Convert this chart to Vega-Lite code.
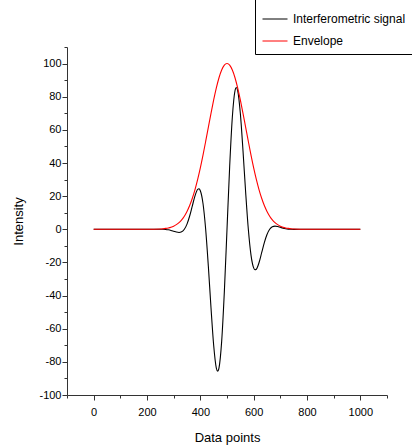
{
  "$schema": "https://vega.github.io/schema/vega-lite/v6.json",
  "width": 320,
  "height": 348,
  "autosize": {"type": "none"},
  "padding": {"left": 67, "top": 47, "right": 25, "bottom": 53},
  "background": "white",
  "config": {
    "view": {"stroke": null},
    "font": "Liberation Sans",
    "axis": {
      "grid": false,
      "domainColor": "#333333",
      "tickColor": "#333333",
      "labelColor": "#000000",
      "titleColor": "#000000",
      "labelFont": "Liberation Sans",
      "titleFont": "Liberation Sans",
      "labelFontSize": 11,
      "titleFontSize": 13,
      "titleFontWeight": "normal",
      "labelOverlap": false
    }
  },
  "data": {
    "values": [
      {"series": "Interferometric signal", "x": 0, "y": 0},
      {"series": "Interferometric signal", "x": 100, "y": 0},
      {"series": "Interferometric signal", "x": 200, "y": 0},
      {"series": "Interferometric signal", "x": 250, "y": 0.04},
      {"series": "Interferometric signal", "x": 260, "y": 0},
      {"series": "Interferometric signal", "x": 270, "y": -0.11},
      {"series": "Interferometric signal", "x": 280, "y": -0.33},
      {"series": "Interferometric signal", "x": 290, "y": -0.68},
      {"series": "Interferometric signal", "x": 300, "y": -1.17},
      {"series": "Interferometric signal", "x": 310, "y": -1.67},
      {"series": "Interferometric signal", "x": 320, "y": -1.93},
      {"series": "Interferometric signal", "x": 330, "y": -1.54},
      {"series": "Interferometric signal", "x": 340, "y": 0},
      {"series": "Interferometric signal", "x": 350, "y": 3.14},
      {"series": "Interferometric signal", "x": 360, "y": 8.01},
      {"series": "Interferometric signal", "x": 370, "y": 14.14},
      {"series": "Interferometric signal", "x": 380, "y": 20.19},
      {"series": "Interferometric signal", "x": 390, "y": 24.09},
      {"series": "Interferometric signal", "x": 395, "y": 24.43},
      {"series": "Interferometric signal", "x": 400, "y": 23.28},
      {"series": "Interferometric signal", "x": 410, "y": 15.56},
      {"series": "Interferometric signal", "x": 420, "y": 0},
      {"series": "Interferometric signal", "x": 430, "y": -22.2},
      {"series": "Interferometric signal", "x": 440, "y": -47.4},
      {"series": "Interferometric signal", "x": 450, "y": -69.98},
      {"series": "Interferometric signal", "x": 460, "y": -83.71},
      {"series": "Interferometric signal", "x": 465, "y": -85.6},
      {"series": "Interferometric signal", "x": 470, "y": -83.59},
      {"series": "Interferometric signal", "x": 480, "y": -67.63},
      {"series": "Interferometric signal", "x": 490, "y": -37.85},
      {"series": "Interferometric signal", "x": 500, "y": 0},
      {"series": "Interferometric signal", "x": 510, "y": 37.85},
      {"series": "Interferometric signal", "x": 520, "y": 67.63},
      {"series": "Interferometric signal", "x": 530, "y": 83.59},
      {"series": "Interferometric signal", "x": 535, "y": 85.6},
      {"series": "Interferometric signal", "x": 540, "y": 83.71},
      {"series": "Interferometric signal", "x": 550, "y": 69.98},
      {"series": "Interferometric signal", "x": 560, "y": 47.4},
      {"series": "Interferometric signal", "x": 570, "y": 22.2},
      {"series": "Interferometric signal", "x": 580, "y": 0},
      {"series": "Interferometric signal", "x": 590, "y": -15.56},
      {"series": "Interferometric signal", "x": 600, "y": -23.28},
      {"series": "Interferometric signal", "x": 605, "y": -24.43},
      {"series": "Interferometric signal", "x": 610, "y": -24.09},
      {"series": "Interferometric signal", "x": 620, "y": -20.19},
      {"series": "Interferometric signal", "x": 630, "y": -14.14},
      {"series": "Interferometric signal", "x": 640, "y": -8.01},
      {"series": "Interferometric signal", "x": 650, "y": -3.14},
      {"series": "Interferometric signal", "x": 660, "y": 0},
      {"series": "Interferometric signal", "x": 670, "y": 1.54},
      {"series": "Interferometric signal", "x": 680, "y": 1.93},
      {"series": "Interferometric signal", "x": 690, "y": 1.67},
      {"series": "Interferometric signal", "x": 700, "y": 1.17},
      {"series": "Interferometric signal", "x": 710, "y": 0.68},
      {"series": "Interferometric signal", "x": 720, "y": 0.33},
      {"series": "Interferometric signal", "x": 730, "y": 0.11},
      {"series": "Interferometric signal", "x": 740, "y": 0},
      {"series": "Interferometric signal", "x": 750, "y": -0.04},
      {"series": "Interferometric signal", "x": 800, "y": 0},
      {"series": "Interferometric signal", "x": 900, "y": 0},
      {"series": "Interferometric signal", "x": 1000, "y": 0},
      {"series": "Envelope", "x": 0, "y": 0},
      {"series": "Envelope", "x": 100, "y": 0},
      {"series": "Envelope", "x": 200, "y": 0.01},
      {"series": "Envelope", "x": 250, "y": 0.2},
      {"series": "Envelope", "x": 260, "y": 0.33},
      {"series": "Envelope", "x": 270, "y": 0.53},
      {"series": "Envelope", "x": 280, "y": 0.82},
      {"series": "Envelope", "x": 290, "y": 1.26},
      {"series": "Envelope", "x": 300, "y": 1.89},
      {"series": "Envelope", "x": 310, "y": 2.79},
      {"series": "Envelope", "x": 320, "y": 4.02},
      {"series": "Envelope", "x": 330, "y": 5.69},
      {"series": "Envelope", "x": 340, "y": 7.89},
      {"series": "Envelope", "x": 350, "y": 10.73},
      {"series": "Envelope", "x": 360, "y": 14.31},
      {"series": "Envelope", "x": 370, "y": 18.71},
      {"series": "Envelope", "x": 380, "y": 23.97},
      {"series": "Envelope", "x": 390, "y": 30.12},
      {"series": "Envelope", "x": 400, "y": 37.09},
      {"series": "Envelope", "x": 410, "y": 44.78},
      {"series": "Envelope", "x": 420, "y": 53.01},
      {"series": "Envelope", "x": 430, "y": 61.51},
      {"series": "Envelope", "x": 440, "y": 69.97},
      {"series": "Envelope", "x": 450, "y": 78.04},
      {"series": "Envelope", "x": 460, "y": 85.33},
      {"series": "Envelope", "x": 470, "y": 91.46},
      {"series": "Envelope", "x": 480, "y": 96.11},
      {"series": "Envelope", "x": 490, "y": 99.01},
      {"series": "Envelope", "x": 500, "y": 100},
      {"series": "Envelope", "x": 510, "y": 99.01},
      {"series": "Envelope", "x": 520, "y": 96.11},
      {"series": "Envelope", "x": 530, "y": 91.46},
      {"series": "Envelope", "x": 540, "y": 85.33},
      {"series": "Envelope", "x": 550, "y": 78.04},
      {"series": "Envelope", "x": 560, "y": 69.97},
      {"series": "Envelope", "x": 570, "y": 61.51},
      {"series": "Envelope", "x": 580, "y": 53.01},
      {"series": "Envelope", "x": 590, "y": 44.78},
      {"series": "Envelope", "x": 600, "y": 37.09},
      {"series": "Envelope", "x": 610, "y": 30.12},
      {"series": "Envelope", "x": 620, "y": 23.97},
      {"series": "Envelope", "x": 630, "y": 18.71},
      {"series": "Envelope", "x": 640, "y": 14.31},
      {"series": "Envelope", "x": 650, "y": 10.73},
      {"series": "Envelope", "x": 660, "y": 7.89},
      {"series": "Envelope", "x": 670, "y": 5.69},
      {"series": "Envelope", "x": 680, "y": 4.02},
      {"series": "Envelope", "x": 690, "y": 2.79},
      {"series": "Envelope", "x": 700, "y": 1.89},
      {"series": "Envelope", "x": 710, "y": 1.26},
      {"series": "Envelope", "x": 720, "y": 0.82},
      {"series": "Envelope", "x": 730, "y": 0.53},
      {"series": "Envelope", "x": 740, "y": 0.33},
      {"series": "Envelope", "x": 750, "y": 0.2},
      {"series": "Envelope", "x": 800, "y": 0.01},
      {"series": "Envelope", "x": 900, "y": 0},
      {"series": "Envelope", "x": 1000, "y": 0}
    ]
  },
  "mark": {"type": "line", "strokeWidth": 1.1, "interpolate": "monotone"},
  "encoding": {
    "x": {
      "field": "x",
      "type": "quantitative",
      "scale": {"domain": [-100, 1100], "nice": false, "zero": false},
      "axis": {
        "title": "Data points",
        "values": [-100, 0, 100, 200, 300, 400, 500, 600, 700, 800, 900, 1000, 1100],
        "labelExpr": "(datum.value % 200 === 0 && datum.value >= 0 && datum.value <= 1000) ? ('' + datum.value) : ''",
        "tickSize": {"condition": {"test": "datum.value % 200 === 0", "value": 5}, "value": 3},
        "labelPadding": 6,
        "titlePadding": 14
      }
    },
    "y": {
      "field": "y",
      "type": "quantitative",
      "scale": {"domain": [-100, 110], "nice": false, "zero": false},
      "axis": {
        "title": "Intensity",
        "values": [-100, -90, -80, -70, -60, -50, -40, -30, -20, -10, 0, 10, 20, 30, 40, 50, 60, 70, 80, 90, 100, 110],
        "labelExpr": "(datum.value % 20 === 0 && datum.value <= 100) ? ('' + datum.value) : ''",
        "tickSize": {"condition": {"test": "datum.value % 20 === 0", "value": 5}, "value": 3},
        "labelPadding": 1,
        "titlePadding": 13
      }
    },
    "color": {
      "field": "series",
      "type": "nominal",
      "sort": ["Interferometric signal", "Envelope"],
      "scale": {"domain": ["Interferometric signal", "Envelope"], "range": ["#000000", "#ff0000"]},
      "legend": {
        "title": null,
        "orient": "none",
        "legendX": 188,
        "legendY": -48,
        "padding": 7,
        "strokeColor": "#000000",
        "fillColor": "#ffffff",
        "symbolType": "stroke",
        "symbolSize": 625,
        "symbolStrokeWidth": 1,
        "labelFont": "Liberation Sans",
        "labelFontSize": 12,
        "labelColor": "#000000",
        "labelOffset": 5,
        "rowPadding": 3,
        "labelLimit": 200
      }
    }
  }
}
